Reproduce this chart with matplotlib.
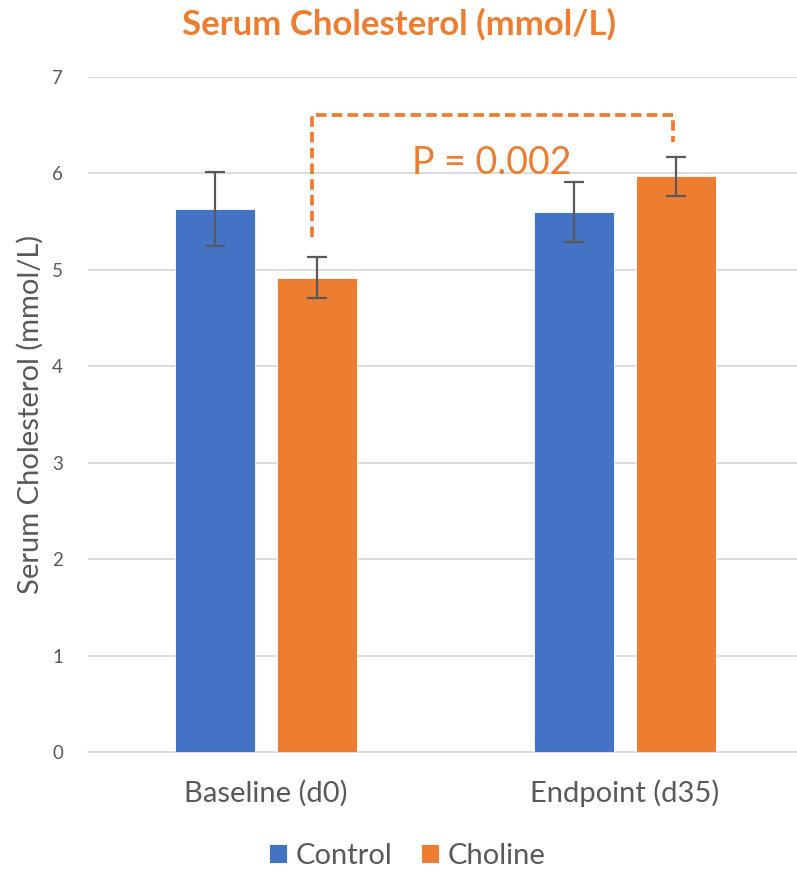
import matplotlib
matplotlib.use("Agg")
import matplotlib.pyplot as plt
import numpy as np

plt.rcParams['font.family'] = ['Lato', 'DejaVu Sans']

categories = ["Baseline (d0)", "Endpoint (d35)"]
series = ["Control", "Choline"]
control_mean = [5.63, 5.60]
control_err = [0.38, 0.31]
choline_mean = [4.92, 5.97]
choline_err = [0.21, 0.20]
p_label = "P = 0.002"

BLUE = "#4472C4"
ORANGE = "#ED7D31"
GRAY = "#595959"
GRID = "#D9D9D9"

fig = plt.figure(figsize=(7.97, 8.71), dpi=100)
ax = fig.add_axes([88/797, 1-752/871, 1-88/797, 675/871])

x = np.arange(len(categories))
w = 0.223
off = 0.142
err_kw = dict(ecolor=GRAY, elinewidth=1.6, capsize=7.5, capthick=1.6)
ax.bar(x - off, control_mean, w, yerr=control_err, color=BLUE, label=series[0],
       edgecolor="white", linewidth=0.6, error_kw=err_kw, zorder=3)
ax.bar(x + off, choline_mean, w, yerr=choline_err, color=ORANGE, label=series[1],
       edgecolor="white", linewidth=0.6, error_kw=err_kw, zorder=3)

ax.set_xlim(-0.496, 1.479)
ax.set_ylim(0, 7)
ax.set_yticks(range(0, 8))
ax.yaxis.grid(True, color=GRID, linewidth=1.3, zorder=0)
ax.set_axisbelow(True)
for s in ["top", "right", "left"]:
    ax.spines[s].set_visible(False)
ax.spines["bottom"].set_color(GRID)
ax.spines["bottom"].set_linewidth(1.3)
ax.tick_params(axis="y", length=0, labelsize=13.5, colors=GRAY, pad=18)
ax.tick_params(axis="x", length=0, labelsize=21, colors=GRAY, pad=20)
ax.set_xticks(x)
ax.set_xticklabels(categories)
ax.set_ylabel("Serum Cholesterol (mmol/L)", fontsize=21, color=GRAY, labelpad=6)

# significance bracket between baseline choline and endpoint choline
bx0, bx1 = 0.128, 1.134
ax.plot([bx0, bx0, bx1, bx1], [5.34, 6.61, 6.61, 6.33], color=ORANGE,
        linewidth=2.7, linestyle=(0, (2.8, 1.4)), zorder=4, solid_capstyle="butt")
ax.text(0.63, 6.11, p_label, color=ORANGE, fontsize=27, ha="center", va="center")

fig.text(0.5, 1-24/871, "Serum Cholesterol (mmol/L)", color=ORANGE, fontsize=25,
         fontweight="bold", ha="center", va="center")

leg = fig.legend(loc="center", bbox_to_anchor=(0.511, 1-856/871), ncol=2, frameon=False,
                 fontsize=21, handlelength=0.62, handleheight=0.62, handletextpad=0.3,
                 columnspacing=1.0)
for t in leg.get_texts():
    t.set_color(GRAY)

fig.savefig("out.png", dpi=100)
